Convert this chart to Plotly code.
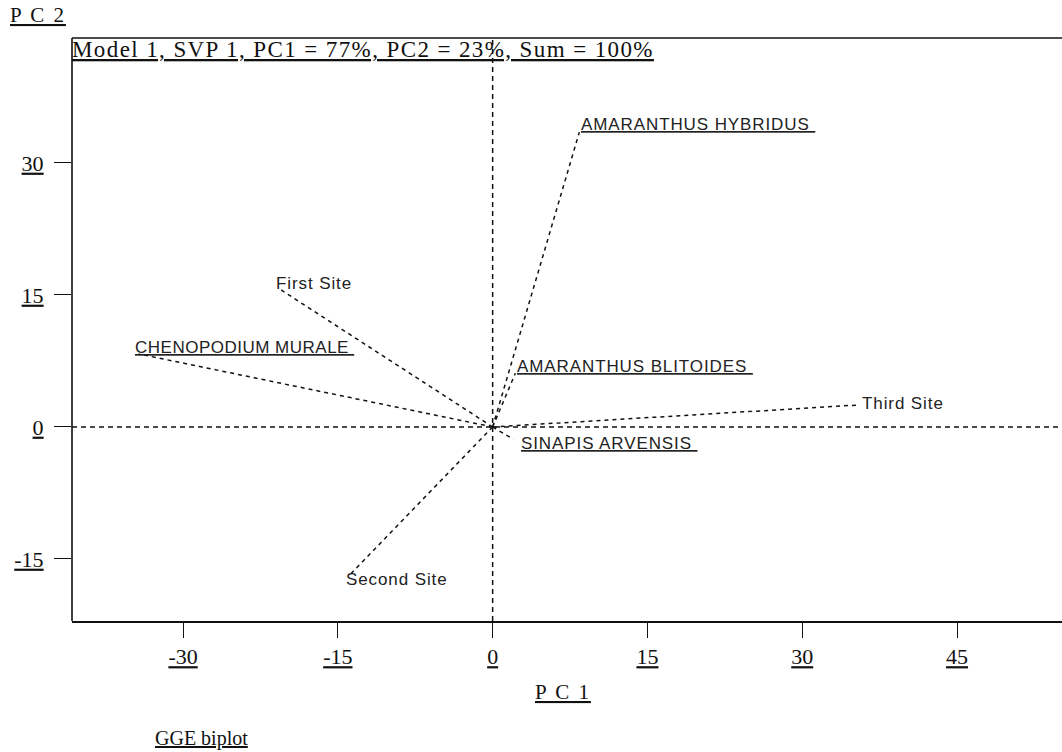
import plotly.graph_objects as go

# ---------------- data ----------------
pc1_ticks = [-30, -15, 0, 15, 30, 45]
pc2_ticks = [-15, 0, 15, 30]

site_names = ["First Site", "Second Site", "Third Site"]
site_pc1 = [-20.8, -14.0, 35.5]
site_pc2 = [15.8, -17.0, 2.5]

gen_names = ["CHENOPODIUM MURALE", "AMARANTHUS HYBRIDUS",
             "AMARANTHUS BLITOIDES", "SINAPIS ARVENSIS"]
gen_pc1 = [-34.3, 8.4, 2.2, 2.0]
gen_pc2 = [8.3, 33.5, 6.1, -1.4]

title_text = "Model 1, SVP 1, PC1 = 77%, PC2 = 23%, Sum = 100%"

# ---------------- layout constants ----------------
# the plot area runs past the right window edge (as in the reference)
W, H = 1072, 752
ML, MR, MT, MB = 72, 0, 38, 131
X_RANGE = [-40.76, 56.14]
Y_RANGE = [-22.05, 44.2]

SERIF = "Liberation Serif, Times New Roman, serif"
SANS = "Liberation Sans, Arial, sans-serif"


def sp(text, ls):
    return "<span style='letter-spacing:%spx'>%s</span>" % (ls, text)


def px_to_paper(px, py):
    return (px - ML) / (W - ML - MR), (H - MB - py) / (H - MT - MB)


fig = go.Figure()

# vectors from origin
def vec_xy(xs, ys):
    vx, vy = [], []
    for x, y in zip(xs, ys):
        vx += [0, x, None]
        vy += [0, y, None]
    return vx, vy

sx, sy = vec_xy(site_pc1, site_pc2)
gx, gy = vec_xy(gen_pc1, gen_pc2)
for vx, vy in [(sx, sy), (gx, gy)]:
    fig.add_trace(go.Scatter(x=vx, y=vy, mode="lines",
                             line=dict(color="#111", width=1.5, dash="4px,4px"),
                             hoverinfo="skip", showlegend=False))

# labels
site_style = {
    "First Site": dict(xanchor="left", yanchor="middle", xshift=-4, yshift=4),
    "Second Site": dict(xanchor="left", yanchor="middle", xshift=-4, yshift=-3),
    "Third Site": dict(xanchor="left", yanchor="middle", xshift=1, yshift=1),
}
gen_style = {
    "CHENOPODIUM MURALE": dict(xanchor="left", yanchor="bottom", xshift=-6, yshift=-5),
    "AMARANTHUS HYBRIDUS": dict(xanchor="left", yanchor="bottom", xshift=0, yshift=-4),
    "AMARANTHUS BLITOIDES": dict(xanchor="left", yanchor="bottom", xshift=0, yshift=-5),
    "SINAPIS ARVENSIS": dict(xanchor="left", yanchor="middle", xshift=6, yshift=-4),
}
label_font = dict(family=SANS, size=17, color="#222")
for n, x, y in zip(site_names, site_pc1, site_pc2):
    fig.add_annotation(x=x, y=y, xref="x", yref="y", text=sp(n, 0.9),
                       showarrow=False, font=label_font, **site_style[n])
for n, x, y in zip(gen_names, gen_pc1, gen_pc2):
    ls = 0.5 if n.startswith("CHENO") else 0.9
    fig.add_annotation(x=x, y=y, xref="x", yref="y",
                       text="<u>" + sp(n + "&nbsp;", ls) + "</u>",
                       showarrow=False, font=label_font, **gen_style[n])

# dashed axes through origin
fig.add_shape(type="line", xref="x", yref="paper", x0=0, x1=0, y0=0, y1=1,
              line=dict(color="#111", width=1.5, dash="5px,4px"))
fig.add_shape(type="line", xref="paper", yref="y", x0=0, x1=1, y0=0, y1=0,
              line=dict(color="#111", width=1.5, dash="5px,4px"))
# frame: top and left lines
fig.add_shape(type="line", xref="paper", yref="paper", x0=0, x1=1, y0=1, y1=1,
              line=dict(color="#111", width=1.6))
fig.add_shape(type="line", xref="paper", yref="paper", x0=0, x1=0, y0=0, y1=1,
              line=dict(color="#111", width=1.6))

# texts around plot
def paper_ann(text, px, py, xanchor, size, ls):
    x, y = px_to_paper(px, py)
    fig.add_annotation(x=x, y=y, xref="paper", yref="paper",
                       text="<u>" + sp(text, ls) + "</u>", showarrow=False,
                       xanchor=xanchor, yanchor="middle",
                       font=dict(family=SERIF, size=size, color="#111"))

paper_ann(title_text, 70, 49, "left", 23, 1.4)
paper_ann("P C 2", 8, 15, "left", 21, 2)
paper_ann("P C 1", 563, 692, "center", 21, 2)
paper_ann("GGE biplot", 153, 738, "left", 20, 0)

tick_font = dict(family=SERIF, size=22, color="#111")
fig.update_xaxes(range=X_RANGE, tickvals=pc1_ticks,
                 ticktext=["<u>%d</u>" % t for t in pc1_ticks],
                 ticks="outside", ticklen=15, tickwidth=1.3, tickcolor="#111",
                 ticklabelstandoff=0, automargin=False,
                 showline=True, linecolor="#111", linewidth=1.6, mirror=False,
                 showgrid=False, zeroline=False, tickfont=tick_font)
fig.update_yaxes(range=Y_RANGE, tickvals=pc2_ticks,
                 ticktext=["<u>%d</u>" % t for t in pc2_ticks],
                 ticks="outside", ticklen=17, tickwidth=1.3, tickcolor="#111",
                 ticklabelstandoff=6, automargin=False,
                 showline=False, mirror=False,
                 showgrid=False, zeroline=False, tickfont=tick_font)

fig.update_layout(width=W, height=H,
                  margin=dict(l=ML, r=MR, t=MT, b=MB),
                  paper_bgcolor="white", plot_bgcolor="white",
                  showlegend=False)

fig.write_html("out.html", config={"displayModeBar": False},
               post_script="document.body.style.margin='0';document.body.style.overflow='hidden';")
